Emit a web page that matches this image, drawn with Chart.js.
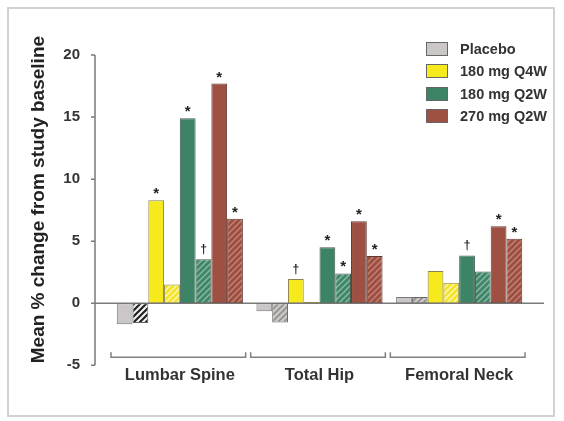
<!DOCTYPE html>
<html>
<head>
<meta charset="utf-8">
<script src="https://cdn.jsdelivr.net/npm/chart.js@4.4.1/dist/chart.umd.min.js"></script>
<style>
  body { margin: 0; background: #fff; }
  #wrap { position: relative; width: 564px; height: 421px; }
  #frame { position: absolute; left: 7px; top: 7px; width: 548px; height: 410px; border: 2px solid #d2d2d2; box-sizing: border-box; }
  #chart { position: absolute; left: 0; top: 0; }
  #legend { position: absolute; left: 426px; top: 38px; font: bold 14.5px "Liberation Sans", Arial, sans-serif; color: #333; }
  .row { height: 22.3px; display: flex; align-items: center; }
  .sw { width: 20px; height: 12px; border: 1px solid #666; margin-right: 12px; }
</style>
</head>
<body>
<div id="wrap">
  <div id="frame"></div>
  <canvas id="chart" width="564" height="421"></canvas>
  <div id="legend"></div>
</div>
<script>
const categories = ["Lumbar Spine", "Total Hip", "Femoral Neck"];
const yTicks = [-5, 0, 5, 10, 15, 20];

// solid bars = first value, hatched bars = second value for each regimen
const placebo = [-1.7, -0.65, 0.5];
const placeboHatch = [-1.6, -1.55, 0.5];
const q4w180 = [8.3, 1.95, 2.6];
const q4w180Hatch = [1.5, 0.1, 1.65];
const q2w180 = [14.9, 4.5, 3.85];
const q2w180Hatch = [3.55, 2.4, 2.55];
const q2w270 = [17.7, 6.6, 6.2];
const q2w270Hatch = [6.8, 3.8, 5.2];

const placeboMarks = ["", "", ""];
const placeboHatchMarks = ["", "", ""];
const q4w180Marks = ["*", "\u2020", ""];
const q4w180HatchMarks = ["", "", ""];
const q2w180Marks = ["*", "*", "\u2020"];
const q2w180HatchMarks = ["\u2020", "*", ""];
const q2w270Marks = ["*", "*", "*"];
const q2w270HatchMarks = ["*", "*", "*"];

const legendNames = ["Placebo", "180 mg Q4W", "180 mg Q2W", "270 mg Q2W"];
const legendColors = ["#cbc7c7", "#f6ea1c", "#3d8466", "#9e5043"];

function hatch(bg, fg, w) {
    const c = document.createElement("canvas");
    c.width = 6;
    c.height = 6;
    const g = c.getContext("2d");
    g.fillStyle = bg;
    g.fillRect(0, 0, 6, 6);
    g.strokeStyle = fg;
    g.lineWidth = w;
    g.beginPath();
    g.moveTo(0, 6); g.lineTo(6, 0);
    g.moveTo(-3, 3); g.lineTo(3, -3);
    g.moveTo(3, 9); g.lineTo(9, 3);
    g.stroke();
    return g.createPattern(c, "repeat");
}

const ctx = document.getElementById("chart").getContext("2d");

const series = [
    { data: placebo, marks: placeboMarks, bg: "#cbc7c7", border: "#777" },
    { data: placeboHatch, marks: placeboHatchMarks,
      bg: [hatch("#f4f4f4", "#222", 2.2), hatch("#c9c5c5", "#8d8888", 1.5), hatch("#c9c5c5", "#8d8888", 1.5)],
      border: "#666" },
    { data: q4w180, marks: q4w180Marks, bg: "#f6ea1c", border: "#8a8250" },
    { data: q4w180Hatch, marks: q4w180HatchMarks, bg: hatch("#f3e526", "#fbf6b8", 1.5), border: "#8a8250" },
    { data: q2w180, marks: q2w180Marks, bg: "#3d8466", border: "#4a5a52" },
    { data: q2w180Hatch, marks: q2w180HatchMarks, bg: hatch("#3f8567", "#86b8a2", 1.5), border: "#4a5a52" },
    { data: q2w270, marks: q2w270Marks, bg: "#9e5043", border: "#5e3a33" },
    { data: q2w270Hatch, marks: q2w270HatchMarks, bg: hatch("#9b4e42", "#c48073", 1.5), border: "#5e3a33" },
];

const axisPlugin = {
    id: "axisLines",
    beforeDatasetsDraw(chart) {
        const { ctx, chartArea, scales } = chart;
        const y = scales.y;
        const ax = chartArea.left - 15;
        ctx.save();
        ctx.strokeStyle = "#7a7a7a";
        ctx.lineWidth = 1.5;
        ctx.beginPath();
        ctx.moveTo(ax, y.getPixelForValue(yTicks[0]));
        ctx.lineTo(ax, y.getPixelForValue(yTicks[yTicks.length - 1]));
        yTicks.forEach((t) => {
            const py = y.getPixelForValue(t);
            ctx.moveTo(ax - 4, py);
            ctx.lineTo(ax, py);
        });
        const zy = y.getPixelForValue(0);
        ctx.moveTo(ax, zy);
        ctx.lineTo(chartArea.right + 15, zy);
        ctx.stroke();

        // category brackets
        const x = scales.x;
        const band = x.width / categories.length;
        const by = y.getPixelForValue(-4.35);
        ctx.strokeStyle = "#808080";
        ctx.lineWidth = 1.5;
        ctx.beginPath();
        categories.forEach((c, i) => {
            const cx = x.getPixelForValue(i);
            const l = cx - band / 2 + 1;
            const r = cx + band / 2 - 4;
            ctx.moveTo(l, by - 5);
            ctx.lineTo(l, by);
            ctx.lineTo(r, by);
            ctx.lineTo(r, by - 5);
        });
        ctx.stroke();
        ctx.restore();
    },
};

const marksPlugin = {
    id: "marks",
    afterDatasetsDraw(chart) {
        const { ctx } = chart;
        ctx.save();
        ctx.fillStyle = "#222";
        ctx.textAlign = "center";
        ctx.textBaseline = "alphabetic";
        chart.data.datasets.forEach((ds, di) => {
            chart.getDatasetMeta(di).data.forEach((el, i) => {
                const m = ds.marks[i];
                if (!m) return;
                if (m === "*") {
                    ctx.font = "bold 15px 'Liberation Sans', Arial, sans-serif";
                    ctx.fillText(m, el.x, el.y - 2);
                } else {
                    ctx.font = "bold 12px 'Liberation Sans', Arial, sans-serif";
                    ctx.fillText(m, el.x, el.y - 6);
                }
            });
        });
        ctx.restore();
    },
};

new Chart(ctx, {
    type: "bar",
    data: {
        labels: categories,
        datasets: series.map((s) => ({
            data: s.data,
            marks: s.marks,
            backgroundColor: s.bg,
            borderColor: s.border,
            borderWidth: 1,
            borderSkipped: false,
            categoryPercentage: 0.903,
            barPercentage: 1.0,
        })),
    },
    options: {
        responsive: false,
        animation: false,
        layout: { padding: { left: 27, top: 34, right: 35, bottom: 36 } },
        plugins: {
            legend: { display: false },
            tooltip: { enabled: false },
        },
        scales: {
            x: {
                grid: { display: false, drawTicks: false },
                border: { display: false },
                ticks: {
                    padding: 0,
                    color: "#333",
                    font: { family: "'Liberation Sans', Arial, sans-serif", size: 16.5, weight: "bold" },
                },
            },
            y: {
                min: -5,
                max: 21.7,
                grid: { display: false, drawTicks: false },
                border: { display: false },
                afterFit: (scale) => {
                    scale.width = 83;
                    scale.paddingTop = 0;
                    scale.paddingBottom = 0;
                },
                ticks: {
                    stepSize: 5,
                    includeBounds: false,
                    padding: 30,
                    color: "#333",
                    font: { family: "'Liberation Sans', Arial, sans-serif", size: 15, weight: "bold" },
                },
                title: {
                    display: true,
                    text: "Mean % change from study baseline",
                    color: "#222",
                    padding: { top: 0, bottom: 14.2 },
                    font: { family: "'Liberation Sans', Arial, sans-serif", size: 19, weight: "bold" },
                },
            },
        },
    },
    plugins: [axisPlugin, marksPlugin],
});

const legend = document.getElementById("legend");
legendNames.forEach((n, i) => {
    const row = document.createElement("div");
    row.className = "row";
    const sw = document.createElement("div");
    sw.className = "sw";
    sw.style.background = legendColors[i];
    row.appendChild(sw);
    row.appendChild(document.createTextNode(n));
    legend.appendChild(row);
});
</script>
</body>
</html>
